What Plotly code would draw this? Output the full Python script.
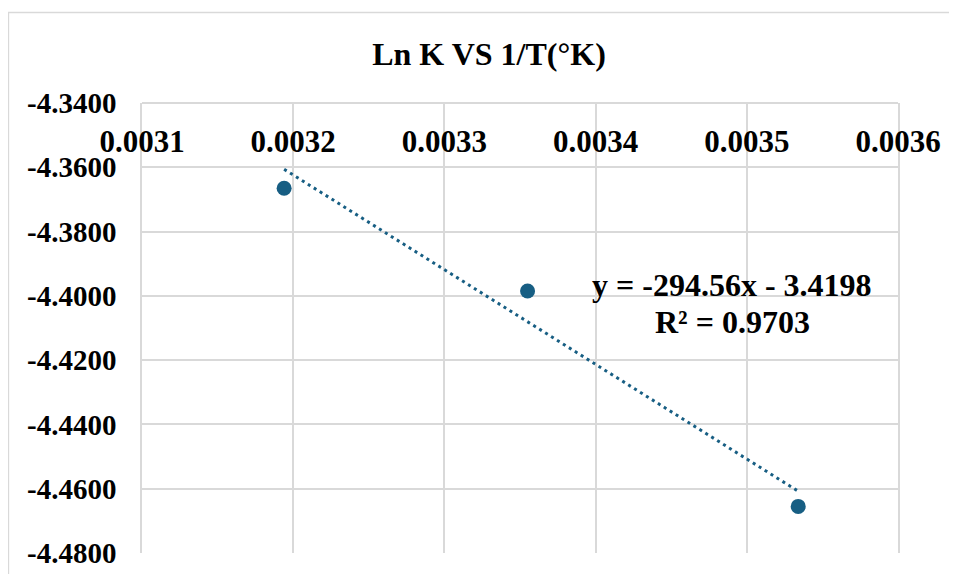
import numpy as np
import plotly.graph_objects as go

# data
inv_temp = [0.003194, 0.003355, 0.003534]      # 1/T (1/K)
ln_k = [-4.3665, -4.3985, -4.4655]             # ln K

# trendline as printed on the chart
slope = -294.56
intercept = -3.4198
r_squared = 0.9703

x_ticks = [0.0031, 0.0032, 0.0033, 0.0034, 0.0035, 0.0036]
y_ticks = [-4.48, -4.46, -4.44, -4.42, -4.40, -4.38, -4.36, -4.34]

title_text = "Ln K VS 1/T(°K)"

BLUE = "#175e83"
GRID = "#d9d9d9"
FONT = "Liberation Serif"

trend_x = np.array([min(inv_temp), max(inv_temp)])
trend_y = slope * trend_x + intercept

fig = go.Figure()

# ── linear trendline ──
fig.add_trace(go.Scatter(
    x=trend_x, y=trend_y,
    mode="lines",
    line=dict(color=BLUE, width=3, dash="3px,4px"),
    hoverinfo="skip",
    showlegend=False,
))

# ── data points ──
fig.add_trace(go.Scatter(
    x=inv_temp, y=ln_k,
    mode="markers",
    marker=dict(color=BLUE, size=15),
    showlegend=False,
))

eq_text = f"y = {slope:.2f}x - {abs(intercept):.4f}"
r2_text = f"R² = {r_squared:.4f}"
label_font = dict(family=FONT, size=32, color="black", weight="bold")

fig.add_annotation(
    x=0.7807, y=0.595, xref="paper", yref="paper",
    xanchor="center", yanchor="middle",
    text=eq_text, showarrow=False, font=label_font,
)
fig.add_annotation(
    x=0.7807, y=0.513, xref="paper", yref="paper",
    xanchor="center", yanchor="middle",
    text=r2_text, showarrow=False, font=label_font,
)

# chart area border (cropped at right and bottom in the reference)
fig.add_shape(
    type="rect", xref="paper", yref="paper",
    x0=-0.1767, x1=1.2, y0=-0.2, y1=1.2013,
    line=dict(color=GRID, width=1.5),
    layer="below",
)

# the page adds an 8px body margin, so the margins are offset by that
fig.update_layout(
    width=957, height=574,
    margin=dict(l=134, r=67, t=95, b=29),
    paper_bgcolor="white",
    plot_bgcolor="white",
    font=dict(family=FONT, color="black"),
    title=dict(
        text=title_text,
        x=0.5026, xanchor="center",
        y=0.92, yanchor="middle",
        font=dict(family=FONT, size=32, color="black", weight="bold"),
    ),
    xaxis=dict(
        range=[0.0031, 0.0036],
        tickvals=x_ticks,
        ticktext=[f"{v:.4f}" for v in x_ticks],
        side="bottom",
        anchor="free", position=1,
        ticklabelstandoff=11,
        ticks="",
        automargin=False,
        showgrid=True, gridcolor=GRID, gridwidth=1.5,
        showline=True, mirror=True, linecolor=GRID, linewidth=1.5,
        zeroline=False,
        tickfont=dict(family=FONT, size=31, color="black", weight="bold"),
    ),
    yaxis=dict(
        range=[-4.48, -4.34],
        tickvals=y_ticks,
        ticktext=[f"{v:.4f}" for v in y_ticks],
        ticks="",
        ticklabelstandoff=18,
        automargin=False,
        showgrid=True, gridcolor=GRID, gridwidth=1.5,
        showline=True, mirror=True, linecolor=GRID, linewidth=1.5,
        zeroline=False,
        tickfont=dict(family=FONT, size=29, color="black", weight="bold"),
    ),
)

fig.write_html("out.html")
